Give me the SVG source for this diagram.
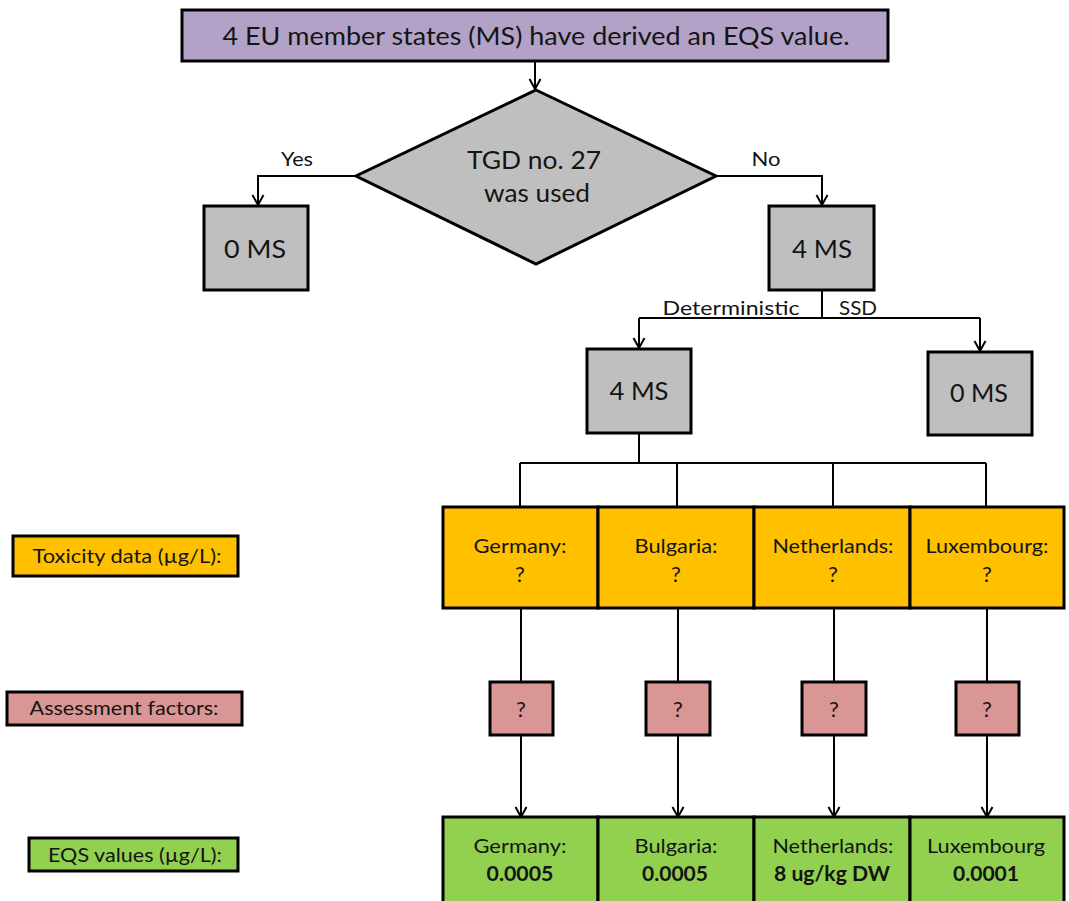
<svg xmlns="http://www.w3.org/2000/svg" width="1069" height="901" viewBox="0 0 1069 901">
  <style>
    text { font-family: Lato, "Open Sans", "Liberation Sans", sans-serif; fill: #141414; }
    .box { stroke: #000; stroke-width: 3; }
    .purple { fill: #b3a2c7; }
    .grey { fill: #bfbfbf; }
    .orange { fill: #ffc000; }
    .pink { fill: #da9694; }
    .green { fill: #92d050; }
    .big { font-size: 25px; }
    .mid { font-size: 20px; }
    .lbl { font-size: 20px; }
    .q { font-size: 22px; }
    .b { font-weight: bold; }
    .wire { fill: none; stroke: #000; stroke-width: 2; }
    .arrow { marker-end: url(#chev); }
  </style>
  <defs>
    <marker id="chev" markerUnits="userSpaceOnUse" markerWidth="14" markerHeight="14" refX="11" refY="6" orient="auto" overflow="visible">
      <path d="M1,0.5 L11,6 L1,11.5" fill="none" stroke="#000" stroke-width="2"/>
    </marker>
  </defs>

  <!-- connectors -->
  <g id="connectors">
    <path class="wire arrow" d="M535,62 V89"/>
    <path class="wire arrow" d="M356,176 H258 V205"/>
    <path class="wire arrow" d="M716,176 H822 V205"/>
    <path class="wire" d="M822,291 V318"/>
    <path class="wire" d="M639,318 H980"/>
    <path class="wire arrow" d="M639,318 V348"/>
    <path class="wire arrow" d="M980,318 V351"/>
    <path class="wire" d="M639,433 V463"/>
    <path class="wire" d="M520,463 H986"/>
    <path class="wire" d="M520,463 V506 M677,463 V506 M833,463 V506 M986,463 V506"/>
    <path class="wire" d="M521,608 V682 M678,608 V682 M834,608 V682 M987,608 V682"/>
    <path class="wire arrow" d="M521,735 V817"/>
    <path class="wire arrow" d="M678,735 V817"/>
    <path class="wire arrow" d="M834,735 V817"/>
    <path class="wire arrow" d="M987,735 V817"/>
  </g>

  <!-- branch labels -->
  <g id="edge-labels">
    <text class="mid" x="297" y="166" text-anchor="middle" textLength="32" lengthAdjust="spacingAndGlyphs">Yes</text>
    <text class="mid" x="766" y="166" text-anchor="middle" textLength="29" lengthAdjust="spacingAndGlyphs">No</text>
    <text class="lbl" x="731" y="315" text-anchor="middle" textLength="137" lengthAdjust="spacingAndGlyphs">Deterministic</text>
    <text class="lbl" x="858" y="315" text-anchor="middle" textLength="38" lengthAdjust="spacingAndGlyphs">SSD</text>
  </g>

  <g id="start">
    <rect class="box purple" x="182" y="10" width="706" height="51"/>
    <text class="big" x="536" y="45" text-anchor="middle" textLength="627" lengthAdjust="spacingAndGlyphs">4 EU member states (MS) have derived an EQS value.</text>
  </g>

  <g id="decision">
    <polygon class="box grey" points="536,90 716,176 536,264 356,176"/>
    <text class="big" x="534" y="169" text-anchor="middle" textLength="134" lengthAdjust="spacingAndGlyphs">TGD no. 27</text>
    <text class="big" x="537" y="202" text-anchor="middle" textLength="106" lengthAdjust="spacingAndGlyphs">was used</text>
  </g>

  <g id="yes-count">
    <rect class="box grey" x="204" y="206" width="104" height="84"/>
    <text class="big" x="255" y="258" text-anchor="middle" textLength="62" lengthAdjust="spacingAndGlyphs">0 MS</text>
  </g>

  <g id="no-count">
    <rect class="box grey" x="769" y="206" width="105" height="84"/>
    <text class="big" x="822" y="258" text-anchor="middle" textLength="60" lengthAdjust="spacingAndGlyphs">4 MS</text>
  </g>

  <g id="deterministic-count">
    <rect class="box grey" x="587" y="349" width="104" height="84"/>
    <text class="big" x="639" y="400" text-anchor="middle" textLength="59" lengthAdjust="spacingAndGlyphs">4 MS</text>
  </g>

  <g id="ssd-count">
    <rect class="box grey" x="928" y="352" width="104" height="83"/>
    <text class="big" x="979" y="402" text-anchor="middle" textLength="58" lengthAdjust="spacingAndGlyphs">0 MS</text>
  </g>

  <!-- row labels -->
  <g id="label-toxicity">
    <rect class="box orange" x="13" y="536" width="225" height="40"/>
    <text class="lbl" x="127" y="563" text-anchor="middle" textLength="189" lengthAdjust="spacingAndGlyphs">Toxicity data (µg/L):</text>
  </g>
  <g id="label-af">
    <rect class="box pink" x="7" y="692" width="235" height="33"/>
    <text class="lbl" x="124" y="715" text-anchor="middle" textLength="189" lengthAdjust="spacingAndGlyphs">Assessment factors:</text>
  </g>
  <g id="label-eqs">
    <rect class="box green" x="29" y="838" width="209" height="33"/>
    <text class="lbl" x="135" y="862" text-anchor="middle" textLength="174" lengthAdjust="spacingAndGlyphs">EQS values (µg/L):</text>
  </g>

  <!-- toxicity data per member state -->
  <g id="tox-germany">
    <rect class="box orange" x="443" y="507" width="155" height="101"/>
    <text class="lbl" x="520" y="553" text-anchor="middle" textLength="93" lengthAdjust="spacingAndGlyphs">Germany:</text>
    <text class="q" x="520" y="582" text-anchor="middle">?</text>
  </g>
  <g id="tox-bulgaria">
    <rect class="box orange" x="598" y="507" width="156" height="101"/>
    <text class="lbl" x="676" y="553" text-anchor="middle" textLength="83" lengthAdjust="spacingAndGlyphs">Bulgaria:</text>
    <text class="q" x="676" y="582" text-anchor="middle">?</text>
  </g>
  <g id="tox-netherlands">
    <rect class="box orange" x="754" y="507" width="156" height="101"/>
    <text class="lbl" x="833" y="553" text-anchor="middle" textLength="121" lengthAdjust="spacingAndGlyphs">Netherlands:</text>
    <text class="q" x="833" y="582" text-anchor="middle">?</text>
  </g>
  <g id="tox-luxembourg">
    <rect class="box orange" x="910" y="507" width="154" height="101"/>
    <text class="lbl" x="987" y="553" text-anchor="middle" textLength="123" lengthAdjust="spacingAndGlyphs">Luxembourg:</text>
    <text class="q" x="987" y="582" text-anchor="middle">?</text>
  </g>

  <!-- assessment factors -->
  <g id="af-germany">
    <rect class="box pink" x="490" y="682" width="63" height="53"/>
    <text class="q" x="521" y="717" text-anchor="middle">?</text>
  </g>
  <g id="af-bulgaria">
    <rect class="box pink" x="646" y="682" width="64" height="53"/>
    <text class="q" x="678" y="717" text-anchor="middle">?</text>
  </g>
  <g id="af-netherlands">
    <rect class="box pink" x="802" y="682" width="64" height="53"/>
    <text class="q" x="834" y="717" text-anchor="middle">?</text>
  </g>
  <g id="af-luxembourg">
    <rect class="box pink" x="956" y="682" width="63" height="53"/>
    <text class="q" x="987" y="717" text-anchor="middle">?</text>
  </g>

  <!-- resulting EQS values -->
  <g id="eqs-germany">
    <rect class="box green" x="443" y="817" width="155" height="90"/>
    <text class="lbl" x="520" y="853" text-anchor="middle" textLength="93" lengthAdjust="spacingAndGlyphs">Germany:</text>
    <text class="lbl b" x="520" y="881" text-anchor="middle" textLength="67" lengthAdjust="spacingAndGlyphs">0.0005</text>
  </g>
  <g id="eqs-bulgaria">
    <rect class="box green" x="598" y="817" width="156" height="90"/>
    <text class="lbl" x="676" y="853" text-anchor="middle" textLength="83" lengthAdjust="spacingAndGlyphs">Bulgaria:</text>
    <text class="lbl b" x="675" y="881" text-anchor="middle" textLength="66" lengthAdjust="spacingAndGlyphs">0.0005</text>
  </g>
  <g id="eqs-netherlands">
    <rect class="box green" x="754" y="817" width="156" height="90"/>
    <text class="lbl" x="833" y="853" text-anchor="middle" textLength="121" lengthAdjust="spacingAndGlyphs">Netherlands:</text>
    <text class="lbl b" x="832" y="881" text-anchor="middle" textLength="116" lengthAdjust="spacingAndGlyphs">8 ug/kg DW</text>
  </g>
  <g id="eqs-luxembourg">
    <rect class="box green" x="910" y="817" width="154" height="90"/>
    <text class="lbl" x="986" y="853" text-anchor="middle" textLength="118" lengthAdjust="spacingAndGlyphs">Luxembourg</text>
    <text class="lbl b" x="986" y="881" text-anchor="middle" textLength="66" lengthAdjust="spacingAndGlyphs">0.0001</text>
  </g>
</svg>
